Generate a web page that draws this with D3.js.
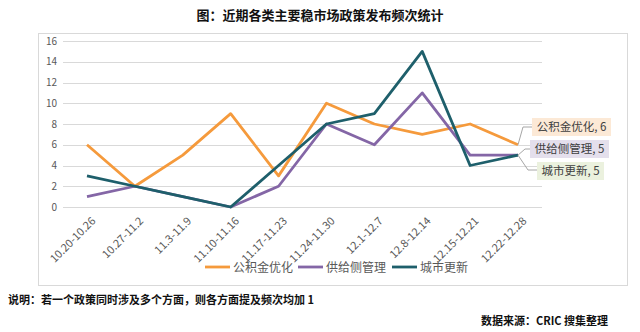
<!DOCTYPE html>
<html><head><meta charset="utf-8">
<script src="https://cdn.jsdelivr.net/npm/d3@7"></script>
<style>body{margin:0;background:#fff}svg{display:block}</style>
</head><body><svg id="c" width="640" height="332"></svg>
<script>
const categories = ["10.20-10.26","10.27-11.2","11.3-11.9","11.10-11.16","11.17-11.23","11.24-11.30","12.1-12.7","12.8-12.14","12.15-12.21","12.22-12.28"];
const seriesNames = ["公积金优化","供给侧管理","城市更新"];
const gjj = [6,2,5,9,3,10,8,7,8,6];
const gjc = [1,2,1,0,2,8,6,11,5,5];
const csgx = [3,2,1,0,4,8,9,15,4,5];
const yTicks = [0,2,4,6,8,10,12,14,16];
const colors = ["#F59A3C","#8466A6","#1E5F6B"];
const labelBg = ["#FCE9D6","#E4DFEC","#EBF1DE"];

const svg = d3.select("#c");
const font = "'Noto Sans CJK SC','Noto Sans',sans-serif";

svg.append("text").attr("x",320).attr("y",20).attr("text-anchor","middle")
  .attr("font-family",font).attr("font-weight","bold").attr("font-size",13).attr("fill","#111")
  .text("图：近期各类主要稳市场政策发布频次统计");

svg.append("rect").attr("x",38.5).attr("y",33.5).attr("width",589).attr("height",252)
  .attr("fill","#fff").attr("stroke","#D9D9D9");

const x = d3.scalePoint().domain(categories).range([87,518]);
const y = d3.scaleLinear().domain([0,16]).range([207,41]);

svg.append("g").selectAll("line").data(yTicks).join("line")
  .attr("x1",63).attr("x2",542).attr("y1",d=>Math.round(y(d))+0.5).attr("y2",d=>Math.round(y(d))+0.5)
  .attr("stroke","#D9D9D9").attr("stroke-width",1);

const yAxis = svg.append("g").attr("transform","translate(57,0)")
  .call(d3.axisLeft(y).tickValues(yTicks).tickSize(0).tickPadding(0));
yAxis.select(".domain").remove();
yAxis.selectAll("text").attr("font-family",font).attr("font-size",10).attr("fill","#595959");

const xAxis = svg.append("g").attr("transform","translate(0,219)")
  .call(d3.axisBottom(x).tickSize(0).tickPadding(0));
xAxis.select(".domain").remove();
xAxis.selectAll("text").attr("font-family",font).attr("font-size",11).attr("fill","#595959")
  .attr("text-anchor","end").attr("dy","0.35em").attr("transform","translate(6,0) rotate(-45)");

const data = [gjj,gjc,csgx];
const line = d3.line().x((d,i)=>x(categories[i])).y(d=>y(d));
data.forEach((s,k)=>{
  svg.append("path").datum(s).attr("d",line).attr("fill","none")
    .attr("stroke",colors[k]).attr("stroke-width",2.8).attr("stroke-linejoin","round");
});

// end labels
const last = categories.length-1;
const lx = x(categories[last]);
const labelPos = [{bx:532,by:118,w:79,elbow:[523,127]},{bx:530,by:140,w:79,elbow:[525,149]},{bx:537,by:162,w:67,elbow:[528,170]}];
data.forEach((s,k)=>{
  const p = labelPos[k];
  const py = y(s[last]);
  svg.append("polyline").attr("points",`${lx},${py} ${p.elbow[0]},${p.elbow[1]} ${p.bx},${p.elbow[1]}`)
    .attr("fill","none").attr("stroke","#A6A6A6").attr("stroke-width",1);
  svg.append("rect").attr("x",p.bx).attr("y",p.by).attr("width",p.w).attr("height",18).attr("fill",labelBg[k]);
  svg.append("text").attr("x",p.bx+p.w/2).attr("y",p.by+13).attr("text-anchor","middle")
    .attr("font-family",font).attr("font-size",11.5).attr("fill","#404040")
    .text(seriesNames[k]+", "+s[last]);
});

// legend
const legX = [205,298,392];
seriesNames.forEach((n,k)=>{
  svg.append("line").attr("x1",legX[k]).attr("x2",legX[k]+25).attr("y1",267).attr("y2",267)
    .attr("stroke",colors[k]).attr("stroke-width",2.8);
  svg.append("text").attr("x",legX[k]+28).attr("y",271.5).attr("font-family",font).attr("font-size",12)
    .attr("fill","#595959").text(n);
});

svg.append("text").attr("x",8).attr("y",304).attr("font-family","'Noto Sans CJK SC',serif").attr("font-weight","bold")
  .attr("font-size",11).attr("fill","#111").text("说明：若一个政策同时涉及多个方面，则各方面提及频次均加 1");
svg.append("text").attr("x",608).attr("y",325).attr("text-anchor","end").attr("font-family","'Noto Sans CJK SC',serif").attr("font-weight","bold")
  .attr("font-size",11).attr("fill","#111").text("数据来源：CRIC 搜集整理");
</script></body></html>
